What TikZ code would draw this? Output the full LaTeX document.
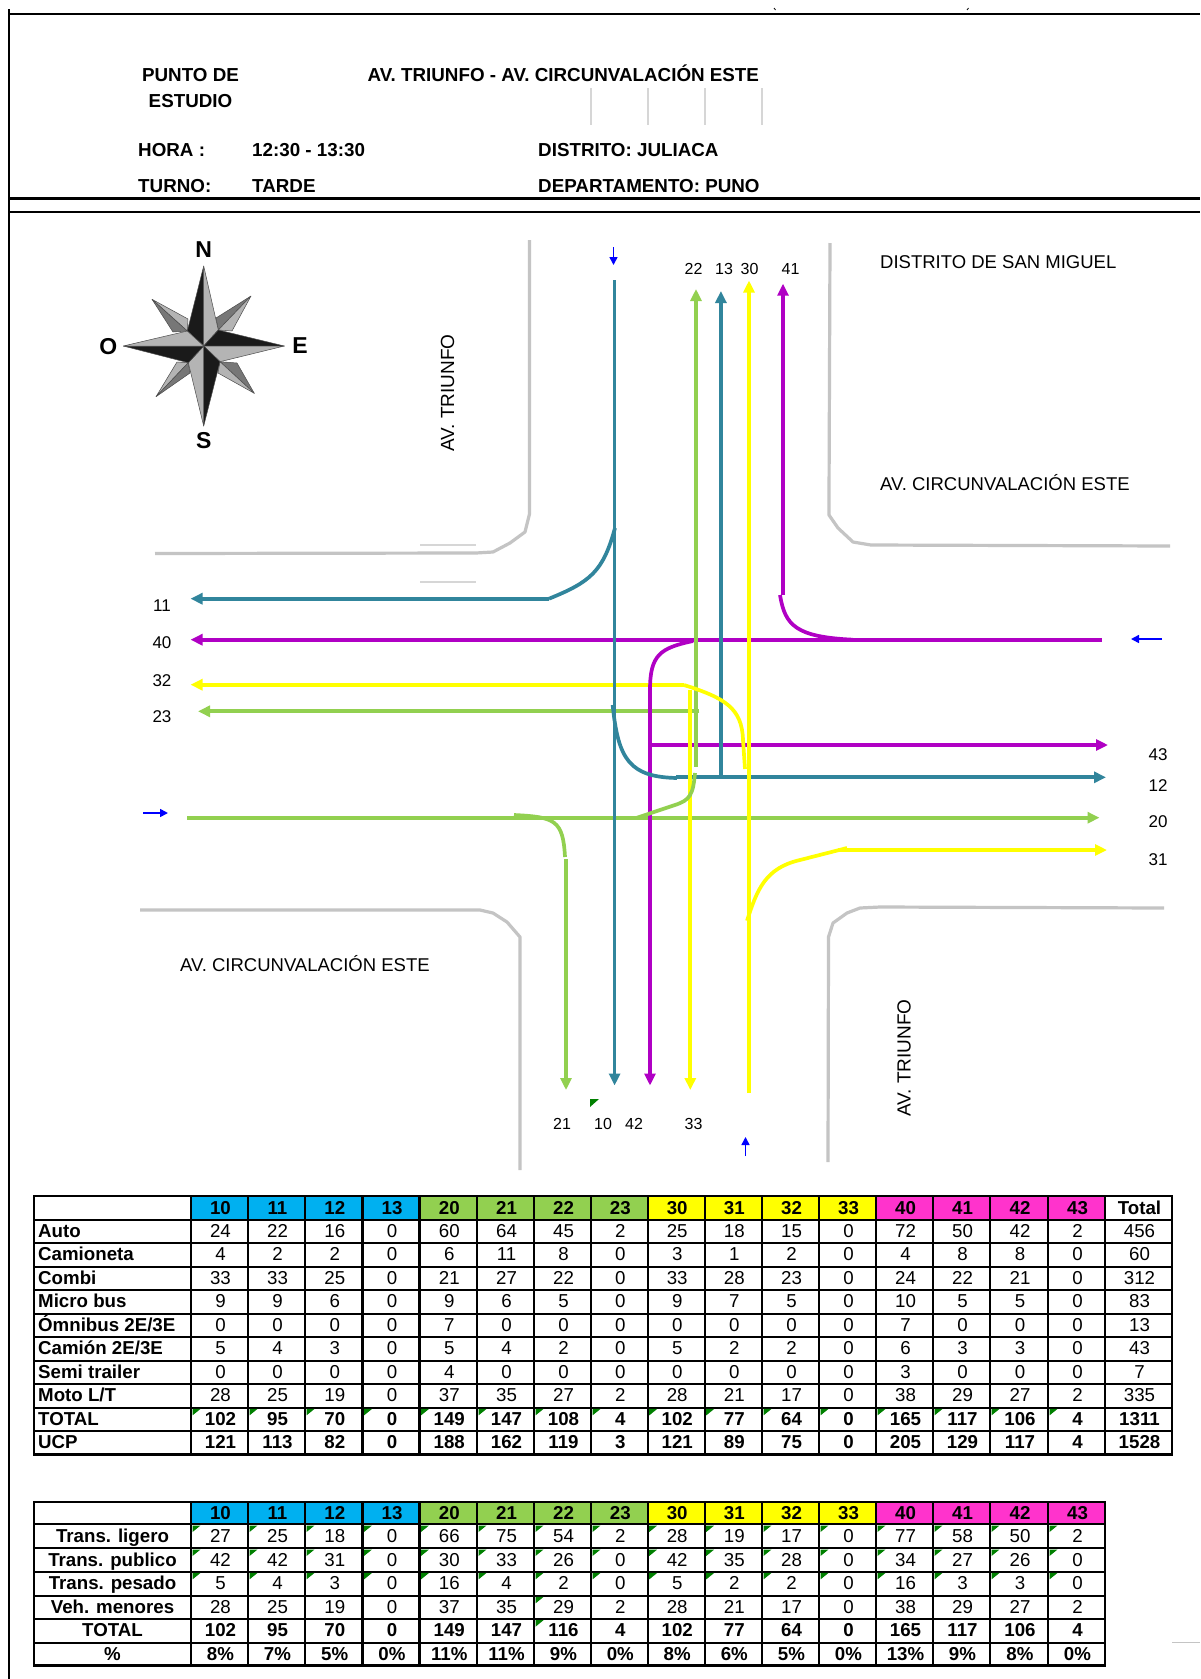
\documentclass[tikz,border=0pt]{standalone}
\usepackage{fontspec}
\setmainfont{Liberation Sans}
\usetikzlibrary{arrows.meta}
\definecolor{cteal}{HTML}{31859C}
\definecolor{cgreen}{HTML}{92D050}
\definecolor{cyell}{HTML}{FFFF00}
\definecolor{cpurp}{HTML}{B000C4}
\definecolor{cgray}{HTML}{C4C4C4}
\definecolor{hblue}{HTML}{00B0F0}
\definecolor{hpink}{HTML}{FF33CC}
\definecolor{ctick}{HTML}{008000}
\definecolor{sdark}{HTML}{1A1A1A}
\definecolor{smid}{HTML}{777777}
\definecolor{slight}{HTML}{B4B4B4}
\tikzset{
  x=1pt,y=-1pt,
  road/.style={draw=cgray,line width=3.2pt,line join=round},
  faint/.style={draw=cgray!70,line width=1.2pt},
  frameline/.style={draw=black,line width=2.2pt},
  flow/.style={line width=3.7pt,-{Triangle[length=12pt,width=11pt]}},
  flowplain/.style={line width=3.7pt},
  dirarrow/.style={draw=blue,line width=1.6pt,-{Triangle[length=8pt,width=8pt]}},
  hd/.style={font=\fontsize{18.8}{20}\selectfont\bfseries,anchor=base west,inner sep=0pt},
  lab/.style={font=\fontsize{18.5}{20}\selectfont,inner sep=0pt},
  labv/.style={font=\fontsize{19}{20}\selectfont,inner sep=0pt},
  num/.style={font=\fontsize{17}{20}\selectfont,inner sep=0pt,anchor=base},
  numtop/.style={font=\fontsize{16}{20}\selectfont,inner sep=0pt,anchor=base},
  card/.style={font=\fontsize{23}{24}\selectfont\bfseries,inner sep=0pt},
  cellr/.style={font=\fontsize{18.7}{20}\selectfont,inner sep=0pt,anchor=base},
  cellb/.style={font=\fontsize{18.7}{20}\selectfont\bfseries,inner sep=0pt,anchor=base},
  rowl/.style={font=\fontsize{18.7}{20}\selectfont\bfseries,inner sep=0pt,anchor=base west},
  rowc/.style={font=\fontsize{18.7}{20}\selectfont\bfseries,inner sep=0pt,anchor=base},
  grid/.style={draw=black,line width=2.2pt},
  tick/.style={fill=ctick,draw=none},
}
\def\xs{{191,248,305,362.5,419.5,477,534,591,647.7,704.7,762,819,876,933,990,1048,1105,1172}}
\newcommand{\cellrow}[4]{%
  \foreach \v [count=\cc] in {#4} {
    \pgfmathsetmacro\xa{\xs[\cc-1]}
    \pgfmathsetmacro\xb{\xs[\cc]}
    \pgfmathsetmacro\cx{(\xa+\xb)/2+1}
    \node[#3] (#1-\cc) at (\cx,#2) {\v};
  }}
\newcommand{\tickrow}[2]{%
  \foreach \cc in {#2} {
    \pgfmathsetmacro\xa{\xs[\cc-1]}
    \pgfmathsetmacro\tx{\xa+1.5}
    \fill[tick] (\tx,#1+1.2) -- ++(8,0) -- ++(-8,6.5) -- cycle;
  }}
\newcommand{\headfill}[3]{%
  \foreach \cc in {1,...,16} {
    \pgfmathsetmacro\xa{\xs[\cc-1]}
    \pgfmathsetmacro\xb{\xs[\cc]}
    \pgfmathtruncatemacro\gg{(\cc-1)/4}
    \ifcase\gg \def\fc{hblue}\or \def\fc{cgreen}\or \def\fc{cyell}\else \def\fc{hpink}\fi
    \fill[\fc] (\xa,#1) rectangle (\xb,#2);
  }}
\begin{document}
\begin{tikzpicture}
\useasboundingbox (0,0) rectangle (1200,1679);
\fill[white] (0,0) rectangle (1200,1679);

% frame
\draw[frameline] (9,9) -- (9,1679);
\draw[frameline] (8,14) -- (1200,14);
\draw[frameline] (8,198.5) -- (1200,198.5);
\draw[frameline] (8,212) -- (1200,212);
\draw[black,line width=.8pt] (774,8) -- (775.5,10);
\draw[black,line width=.8pt] (967,10) -- (968.5,8);

% header
\node[hd,anchor=base] (pd) at (190.5,81) {PUNTO DE};
\node[hd,anchor=base] (es) at (190.5,107) {ESTUDIO};
\node[hd] (pt) at (367.5,81) {AV. TRIUNFO - AV. CIRCUNVALACIÓN ESTE};
\node[hd] (ho) at (138,156) {HORA :};
\node[hd] (hv) at (252,156) {12:30 - 13:30};
\node[hd] (di) at (538,156) {DISTRITO: JULIACA};
\node[hd] (tu) at (138,192) {TURNO:};
\node[hd] (tv) at (252,192) {TARDE};
\node[hd] (de) at (538,192) {DEPARTAMENTO: PUNO};
\foreach \gx in {591,648,705,762} \draw[faint] (\gx,88) -- (\gx,125);

% compass
\coordinate (cc) at (203.7,346);
\coordinate (nn) at (203.7,266);
\coordinate (ss) at (203.7,426);
\coordinate (ww) at (123.3,346);
\coordinate (ee) at (284.3,346);
\coordinate (ne) at (218.3,330);
\coordinate (nw) at (187.3,331);
\coordinate (se) at (220,361.7);
\coordinate (sw) at (188.3,362.7);
\begin{scope}[draw=black!70,line width=.5pt,line join=round]
\filldraw[fill=smid] (251,296) -- (216,318) -- (ne) -- cycle;
\filldraw[fill=slight] (251,296) -- (ne) -- (232,331) -- cycle;
\filldraw[fill=slight] (152,299.3) -- (188,319) -- (nw) -- cycle;
\filldraw[fill=smid] (152,299.3) -- (nw) -- (173,332) -- cycle;
\filldraw[fill=smid] (254.3,393.3) -- (se) -- (237,363) -- cycle;
\filldraw[fill=slight] (254.3,393.3) -- (se) -- (218,373) -- cycle;
\filldraw[fill=slight] (156,396.7) -- (177,362) -- (sw) -- cycle;
\filldraw[fill=smid] (156,396.7) -- (sw) -- (190,373) -- cycle;
\filldraw[fill=sdark] (nn) -- (nw) -- (cc) -- cycle;
\filldraw[fill=slight] (nn) -- (ne) -- (cc) -- cycle;
\filldraw[fill=sdark] (ee) -- (ne) -- (cc) -- cycle;
\filldraw[fill=slight] (ee) -- (se) -- (cc) -- cycle;
\filldraw[fill=sdark] (ss) -- (se) -- (cc) -- cycle;
\filldraw[fill=slight] (ss) -- (sw) -- (cc) -- cycle;
\filldraw[fill=sdark] (ww) -- (sw) -- (cc) -- cycle;
\filldraw[fill=slight] (ww) -- (nw) -- (cc) -- cycle;
\end{scope}
\node[card] (cn) at (203.7,250) {N};
\node[card] (cs) at (203.7,441) {S};
\node[card] (co) at (108.3,347) {O};
\node[card] (ce) at (300,346) {E};

% roads
\draw[road] (529.5,240) -- (529.5,514) -- (525,532) -- (510,543) -- (493,552) -- (476,553) -- (155,553.5);
\draw[road] (830,243) -- (829,500) -- (829,515) -- (838,528) -- (853,542) -- (871,545) -- (1170,546);
\draw[road] (140,910) -- (480,910) -- (493,913) -- (507,922) -- (520,937) -- (520,1170);
\draw[road] (828,1162) -- (828.5,937) -- (833,923) -- (847,913) -- (860,908) -- (880,907) -- (1164,908);
\draw[faint] (420,545) -- (476,545);
\draw[faint] (420,582) -- (476,582);
\draw[road,line width=1.6pt] (1172,1642.5) -- (1200,1642.5);

% road labels
\node[labv,rotate=90] (r1) at (447.5,393) {AV. TRIUNFO};
\node[labv,rotate=90] (r2) at (904,1058) {AV. TRIUNFO};
\node[lab,anchor=west] (r3) at (880,262) {DISTRITO DE SAN MIGUEL};
\node[lab,anchor=west] (r4) at (880,483) {AV. CIRCUNVALACIÓN ESTE};
\node[lab,anchor=west] (r5) at (180,964) {AV. CIRCUNVALACIÓN ESTE};

% flows: horizontals
\draw[flow,cpurp] (1101.5,639.7) -- (190.5,639.7);
\draw[flow,cyell] (684,684.7) -- (190.5,684.7);
\draw[flow,cgreen] (699.3,711.3) -- (198,711.3);
\draw[flow,cteal] (549,598.7) -- (190.5,598.7);
\draw[flow,cpurp] (650,745) -- (1108,745);
\draw[flow,cteal] (676,777.3) -- (1106,777.3);
\draw[flow,cgreen] (187,817.7) -- (1099.5,817.7);
\draw[flow,cyell] (838,850) -- (1107,850);
% flows: verticals
\draw[flow,cteal] (614.6,280) -- (614.6,1085.5);
\draw[flow,cpurp] (693,641) .. controls (660,648) and (650,655) .. (650,690) -- (650,1085.5);
\draw[flow,cyell] (690.3,690) -- (690.3,1090);
\draw[flow,cgreen] (696,766.7) -- (696,289);
\draw[flow,cteal] (720.9,777) -- (720.9,291);
\draw[flow,cyell] (749,1093) -- (749,280.5);
\draw[flow,cpurp] (783,595) -- (783,283.7);
\draw[flow,cgreen] (566,859) -- (566,1090);
% flows: turning curves
\draw[flowplain,cteal] (615,528) .. controls (603,572) and (590,582) .. (549,598.7);
\draw[flowplain,cpurp] (780,595) .. controls (785,625) and (795,637) .. (853,639.7);
\draw[flowplain,cyell] (684,685) .. controls (725,698) and (742,708) .. (743,740) -- (745,769);
\draw[flowplain,cteal] (612.7,705) .. controls (618,760) and (630,777) .. (677,778);
\draw[flowplain,cgreen] (637,817.7) -- (675,805) .. controls (690,800) and (693,795) .. (695,773);
\draw[flowplain,cgreen] (514,815) .. controls (555,817) and (563,820) .. (565,857);
\draw[flowplain,cyell] (847,848) -- (800,860) .. controls (765,868) and (757,890) .. (747,920.7);

% direction arrows
\draw[dirarrow] (613.5,247) -- (613.5,265);
\draw[dirarrow] (1162,639) -- (1131,639);
\draw[dirarrow] (143,813) -- (168,813);
\draw[dirarrow] (745.5,1156) -- (745.5,1137);
\fill[tick] (590,1099) -- (599,1099) -- (590,1107) -- cycle;

% flow labels
\foreach \nm/\tx/\px/\py in {a/11/162/611,b/40/162/648,c/32/162/686,d/23/162/722,e/43/1158/760,f/12/1158/791,g/20/1158/827,h/31/1158/865}
  \node[num] (lb\nm) at (\px,\py) {\tx};
\foreach \nm/\tx/\px in {a/22/693.5,b/13/724,c/30/749.5,d/41/790.5}
  \node[numtop] (lt\nm) at (\px,274) {\tx};
\foreach \nm/\tx/\px in {a/21/562,b/10/603,c/42/634,d/33/693.5}
  \node[numtop] (lu\nm) at (\px,1129) {\tx};

% table 1
\headfill{1196}{1219.7}{}
\foreach \yy in {1219.7,1242.7,1266.7,1290,1313.7,1337,1360.7,1384,1407.7,1431}
  \draw[grid] (34,\yy) -- (1172,\yy);
\draw[grid,line width=2.6pt] (34,1196) rectangle (1172,1454.3);
\foreach \cc in {1,...,16} {
  \pgfmathsetmacro\xa{\xs[\cc]}
  \draw[grid] (\xa,1196) -- (\xa,1454.3);
}
\draw[grid] (191,1196) -- (191,1454.3);
\cellrow{ta}{1214}{cellb}{10,11,12,13,20,21,22,23,30,31,32,33,40,41,42,43,Total}
\cellrow{tb}{1237.5}{cellr}{24,22,16,0,60,64,45,2,25,18,15,0,72,50,42,2,456}
\cellrow{tc}{1260.5}{cellr}{4,2,2,0,6,11,8,0,3,1,2,0,4,8,8,0,60}
\cellrow{td}{1284}{cellr}{33,33,25,0,21,27,22,0,33,28,23,0,24,22,21,0,312}
\cellrow{te}{1307.5}{cellr}{9,9,6,0,9,6,5,0,9,7,5,0,10,5,5,0,83}
\cellrow{tf}{1331}{cellr}{0,0,0,0,7,0,0,0,0,0,0,0,7,0,0,0,13}
\cellrow{tg}{1354.5}{cellr}{5,4,3,0,5,4,2,0,5,2,2,0,6,3,3,0,43}
\cellrow{th}{1378}{cellr}{0,0,0,0,4,0,0,0,0,0,0,0,3,0,0,0,7}
\cellrow{ti}{1401.5}{cellr}{28,25,19,0,37,35,27,2,28,21,17,0,38,29,27,2,335}
\cellrow{tj}{1425}{cellb}{102,95,70,0,149,147,108,4,102,77,64,0,165,117,106,4,1311}
\cellrow{tk}{1448}{cellb}{121,113,82,0,188,162,119,3,121,89,75,0,205,129,117,4,1528}
\foreach \nm/\tx/\yy in {b/Auto/1237.5,c/Camioneta/1260.5,d/Combi/1284,e/Micro bus/1307.5,f/Ómnibus 2E\slash 3E/1331,g/Camión 2E\slash 3E/1354.5,h/Semi trailer/1378,i/Moto L\slash T/1401.5,j/TOTAL/1425,k/UCP/1448}
  \node[rowl] (tl\nm) at (38,\yy) {\tx};
\tickrow{1407.7}{1,...,16}

% table 2
\headfill{1502}{1524.3}{}
\foreach \yy in {1524.3,1548.3,1571.7,1595.7,1619,1643}
  \draw[grid] (34,\yy) -- (1105,\yy);
\draw[grid,line width=2.6pt] (34,1502) rectangle (1105,1665.7);
\foreach \cc in {1,...,15} {
  \pgfmathsetmacro\xa{\xs[\cc]}
  \draw[grid] (\xa,1502) -- (\xa,1665.7);
}
\draw[grid] (191,1502) -- (191,1665.7);
\cellrow{ua}{1519.5}{cellb}{10,11,12,13,20,21,22,23,30,31,32,33,40,41,42,43}
\cellrow{ub}{1542.5}{cellr}{27,25,18,0,66,75,54,2,28,19,17,0,77,58,50,2}
\cellrow{uc}{1566}{cellr}{42,42,31,0,30,33,26,0,42,35,28,0,34,27,26,0}
\cellrow{ud}{1589.5}{cellr}{5,4,3,0,16,4,2,0,5,2,2,0,16,3,3,0}
\cellrow{ue}{1613}{cellr}{28,25,19,0,37,35,29,2,28,21,17,0,38,29,27,2}
\cellrow{uf}{1636.5}{cellb}{102,95,70,0,149,147,116,4,102,77,64,0,165,117,106,4}
\cellrow{ug}{1660}{cellb}{8\%,7\%,5\%,0\%,11\%,11\%,9\%,0\%,8\%,6\%,5\%,0\%,13\%,9\%,8\%,0\%}
\foreach \nm/\tx/\yy in {b/Trans. ligero/1542.5,c/Trans. publico/1566,d/Trans. pesado/1589.5,e/Veh. menores/1613,f/TOTAL/1636.5,g/\%/1660}
  \node[rowc] (ul\nm) at (112.5,\yy) {\tx};
\tickrow{1524.3}{1,...,16}
\tickrow{1548.3}{1,...,16}
\tickrow{1571.7}{1,...,16}
\tickrow{1595.7}{7}
\tickrow{1619}{7}
\end{tikzpicture}
\end{document}
